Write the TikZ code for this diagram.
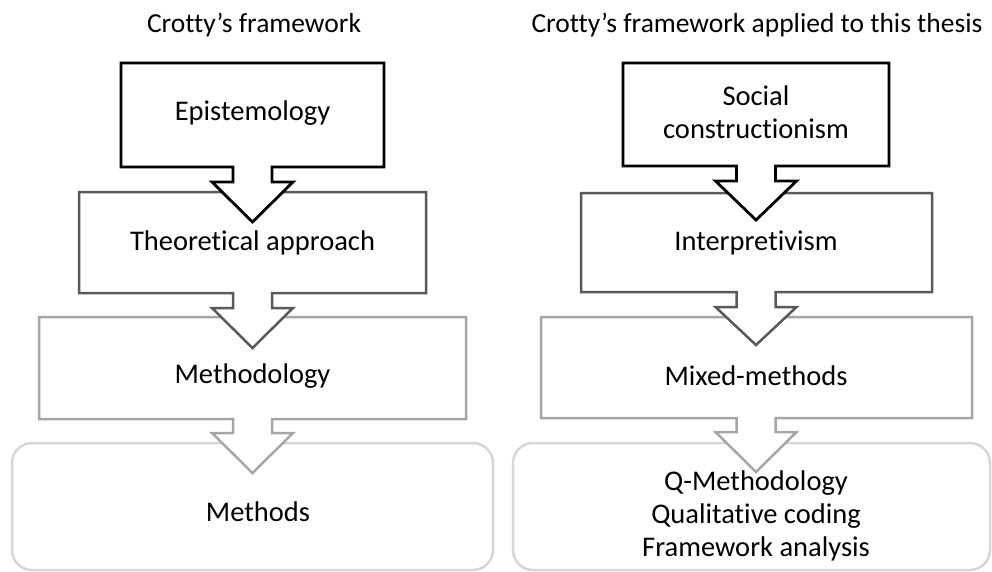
\documentclass[tikz,border=0pt]{standalone}
\usepackage{fontspec}
\setmainfont{Carlito}[Ligatures=NoCommon]
\definecolor{levelone}{HTML}{000000}
\definecolor{leveltwo}{HTML}{595959}
\definecolor{levelthree}{HTML}{A6A6A6}
\definecolor{levelfour}{HTML}{D6D6D6}
% Box with a downward arrow hanging from its bottom edge:
% #1,#2 top-left, #3,#4 bottom-right, #5 arrow axis, #6 shaft end, #7 tip, #8 style
\newcommand{\downcallout}[8]{%
  \draw[#8] (#1,#2) -- (#3,#2) -- (#3,#4)
    -- ({#5+19.5},#4) -- ({#5+19.5},#6) -- ({#5+40.5},#6)
    -- (#5,#7)
    -- ({#5-40.5},#6) -- ({#5-19.5},#6) -- ({#5-19.5},#4)
    -- (#1,#4) -- cycle;}
\tikzset{
  shapebase/.style={fill=white, line join=miter, miter limit=10},
  boxone/.style={shapebase, draw=levelone, line width=2.8pt},
  boxtwo/.style={shapebase, draw=leveltwo, line width=2.5pt},
  boxthree/.style={shapebase, draw=levelthree, line width=2.5pt},
  boxfour/.style={shapebase, draw=levelfour, line width=2.5pt, rounded corners=20pt},
  label/.style={font=\fontsize{28.5}{33}\selectfont, align=center, inner sep=0pt, text=black},
  heading/.style={font=\fontsize{27.5}{32}\selectfont, inner sep=0pt, text=black}
}
\begin{document}
\begin{tikzpicture}[x=1pt,y=-1pt]
\useasboundingbox (0,0) rectangle (992,571);

% headings
\node[heading] (hleft) at (254,25) {Crotty’s framework};
\node[heading] (hright) at (757,25) {Crotty’s framework applied to this thesis};

% left column, drawn bottom-up so each arrow lies over the box below it
\draw[boxfour] (12,443) rectangle (493,570);
\downcallout{39}{317}{466}{419}{252.5}{433}{473}{boxthree}
\downcallout{79}{192}{426}{293}{252.5}{308}{348}{boxtwo}
\downcallout{121}{63}{384}{167}{252.5}{182}{222}{boxone}

\node[label] (epi) at (252.5,113) {Epistemology};
\node[label] (theo) at (252.5,243) {Theoretical approach};
\node[label] (meth) at (252.5,376) {Methodology};
\node[label] (methods) at (258,512) {Methods};

% right column
\draw[boxfour] (513,443) rectangle (990,570);
\downcallout{541}{317}{972}{418}{756}{432}{472}{boxthree}
\downcallout{581}{193}{932}{292}{756}{307}{345}{boxtwo}
\downcallout{623}{63}{889}{166}{756}{181}{220}{boxone}

\node[label] (soc) at (756,112) {Social\\constructionism};
\node[label] (interp) at (756,243) {Interpretivism};
\node[label] (mixed) at (756,376) {Mixed-methods};
\node[label] (tools) at (756,516) {Q-Methodology\\Qualitative coding\\Framework analysis};
\end{tikzpicture}
\end{document}
